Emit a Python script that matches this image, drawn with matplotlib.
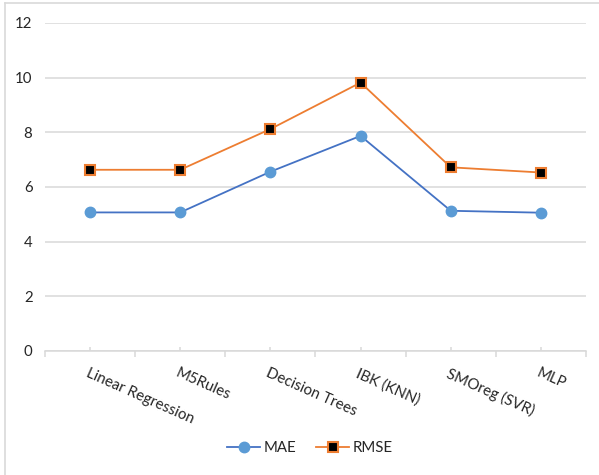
import numpy as np
import matplotlib.pyplot as plt
from matplotlib.lines import Line2D

# model error comparison
models = ["Linear Regression", "M5Rules", "Decision Trees", "IBK (KNN)",
          "SMOreg (SVR)", "MLP"]
mae = [5.07, 5.07, 6.56, 7.87, 5.13, 5.06]
rmse = [6.63, 6.63, 8.12, 9.82, 6.72, 6.53]
yticks = [0, 2, 4, 6, 8, 10, 12]

plt.rcParams['font.family'] = ['Lato', 'DejaVu Sans']
fsize = 10.8
grid_col = '#D9D9D9'
text_col = '#262626'

fig = plt.figure(figsize=(5.99, 4.75), dpi=100)
ax = fig.add_axes([45 / 599, 1 - 351 / 475, 541 / 599, 328 / 475])

x = np.arange(len(models))
ax.plot(x, mae, color='#4472C4', lw=1.3, marker='o', ms=7.5,
        mfc='#5B9BD5', mec='#5B9BD5', label='MAE', zorder=3)
ax.plot(x, rmse, color='#ED7D31', lw=1.3, marker='s', ms=7,
        mfc='black', mec='#ED7D31', mew=1.5, label='RMSE', zorder=3)

ax.set_xlim(-0.5, len(models) - 0.5)
ax.set_ylim(0, 12)
ax.set_yticks(yticks)
ax.set_yticklabels([str(v) for v in yticks], fontsize=fsize, color=text_col)
ax.yaxis.grid(True, color=grid_col, lw=1.1)
ax.set_axisbelow(True)
ax.tick_params(axis='y', length=0, pad=9)

for s in ['left', 'right', 'top']:
    ax.spines[s].set_visible(False)
ax.spines['bottom'].set_color(grid_col)
ax.spines['bottom'].set_linewidth(1.1)

# boundary ticks point down, centre ticks point up
ax.set_xticks(np.arange(-0.5, len(models), 1.0))
ax.set_xticklabels([])
ax.tick_params(axis='x', direction='out', length=4, color=grid_col, width=1.1)
ax.set_xticks(x, minor=True)
ax.tick_params(axis='x', which='minor', direction='in', length=3,
               color=grid_col, width=1.1)

for i, name in enumerate(models):
    ax.annotate(name, xy=(i, 0), xycoords='data', xytext=(-0.5, -11),
                textcoords='offset points', rotation=-24,
                rotation_mode='anchor', ha='left', va='top',
                fontsize=fsize, color=text_col)

handles = [
    Line2D([], [], color='#4472C4', lw=1.3, marker='o', ms=7.5,
           mfc='#5B9BD5', mec='#5B9BD5'),
    Line2D([], [], color='#ED7D31', lw=1.3, marker='s', ms=7,
           mfc='black', mec='#ED7D31', mew=1.5),
]
fig.legend(handles, ['MAE', 'RMSE'], loc='center', ncol=2,
           bbox_to_anchor=(310 / 599, 1 - 448 / 475), frameon=False,
           fontsize=fsize, handlelength=2.2, handletextpad=0.25,
           columnspacing=1.3, labelcolor=text_col)

# outer chart border
fig.add_artist(Line2D([5 / 599, 5 / 599], [0, 1 - 3 / 475],
                      color=grid_col, lw=1.2, transform=fig.transFigure))
fig.add_artist(Line2D([5 / 599, 1], [1 - 3 / 475, 1 - 3 / 475],
                      color=grid_col, lw=1.2, transform=fig.transFigure))

fig.savefig('out.png', dpi=100)
